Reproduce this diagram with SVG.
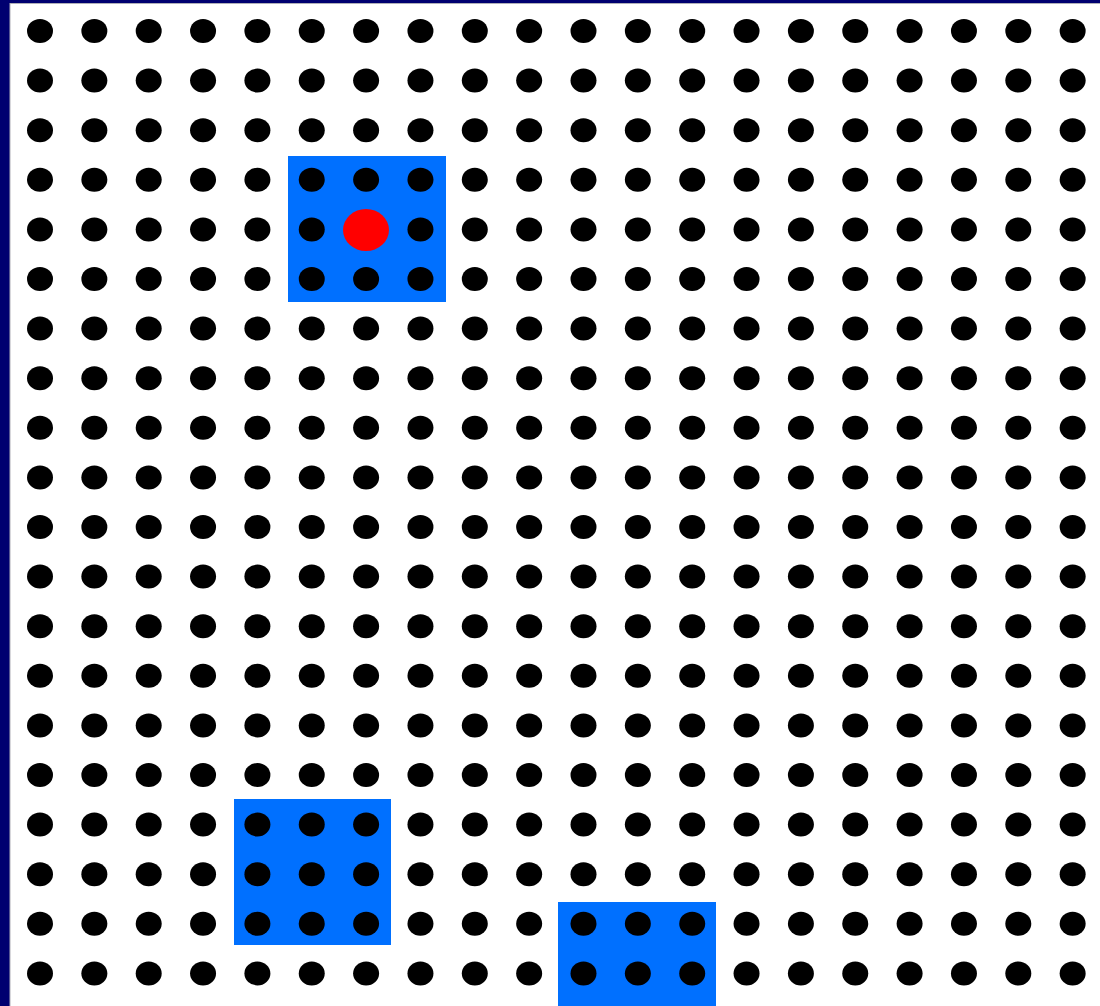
<svg xmlns="http://www.w3.org/2000/svg" xmlns:xlink="http://www.w3.org/1999/xlink" width="1100" height="1006" viewBox="0 0 1100 1006">
<style>
.dot{fill:#000}
.blk{fill:#0070ff}
</style>
<defs>
<g id="row">
<ellipse class="dot" cx="40" cy="0" rx="13" ry="12"/>
<ellipse class="dot" cx="94.35" cy="0" rx="13" ry="12"/>
<ellipse class="dot" cx="148.7" cy="0" rx="13" ry="12"/>
<ellipse class="dot" cx="203.05" cy="0" rx="13" ry="12"/>
<ellipse class="dot" cx="257.4" cy="0" rx="13" ry="12"/>
<ellipse class="dot" cx="311.75" cy="0" rx="13" ry="12"/>
<ellipse class="dot" cx="366.1" cy="0" rx="13" ry="12"/>
<ellipse class="dot" cx="420.45" cy="0" rx="13" ry="12"/>
<ellipse class="dot" cx="474.8" cy="0" rx="13" ry="12"/>
<ellipse class="dot" cx="529.15" cy="0" rx="13" ry="12"/>
<ellipse class="dot" cx="583.5" cy="0" rx="13" ry="12"/>
<ellipse class="dot" cx="637.85" cy="0" rx="13" ry="12"/>
<ellipse class="dot" cx="692.2" cy="0" rx="13" ry="12"/>
<ellipse class="dot" cx="746.55" cy="0" rx="13" ry="12"/>
<ellipse class="dot" cx="800.9" cy="0" rx="13" ry="12"/>
<ellipse class="dot" cx="855.25" cy="0" rx="13" ry="12"/>
<ellipse class="dot" cx="909.6" cy="0" rx="13" ry="12"/>
<ellipse class="dot" cx="963.95" cy="0" rx="13" ry="12"/>
<ellipse class="dot" cx="1018.3" cy="0" rx="13" ry="12"/>
<ellipse class="dot" cx="1072.65" cy="0" rx="13" ry="12"/>
</g>
</defs>
<rect x="0" y="0" width="1100" height="1006" fill="#000070"/>
<rect x="10" y="3.5" width="1091" height="1003" fill="#ffffff" stroke="#b0b0b8" stroke-width="1"/>
<g id="highlights">
<rect class="blk" x="288" y="156" width="158" height="146"/>
<rect class="blk" x="234" y="799" width="157" height="146"/>
<rect class="blk" x="558" y="902" width="158" height="104"/>
</g>
<g id="grid">
<use xlink:href="#row" y="31"/>
<use xlink:href="#row" y="80.6"/>
<use xlink:href="#row" y="130.2"/>
<use xlink:href="#row" y="179.8"/>
<use xlink:href="#row" y="229.4"/>
<use xlink:href="#row" y="279"/>
<use xlink:href="#row" y="328.6"/>
<use xlink:href="#row" y="378.2"/>
<use xlink:href="#row" y="427.8"/>
<use xlink:href="#row" y="477.4"/>
<use xlink:href="#row" y="527"/>
<use xlink:href="#row" y="576.6"/>
<use xlink:href="#row" y="626.2"/>
<use xlink:href="#row" y="675.8"/>
<use xlink:href="#row" y="725.4"/>
<use xlink:href="#row" y="775"/>
<use xlink:href="#row" y="824.6"/>
<use xlink:href="#row" y="874.2"/>
<use xlink:href="#row" y="923.8"/>
<use xlink:href="#row" y="973.4"/>
</g>
<ellipse id="current" cx="366" cy="230" rx="23" ry="21" fill="#ff0000"/>
</svg>
